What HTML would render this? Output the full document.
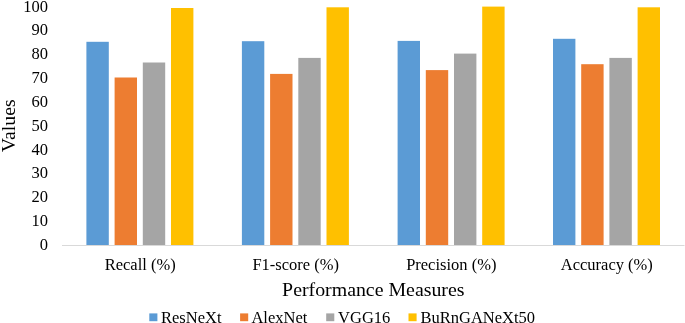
<!DOCTYPE html>
<html><head><meta charset="utf-8"><title>Chart</title>
<style>
html,body{margin:0;padding:0;background:#fff;}
svg{display:block;}
text{font-family:"Liberation Serif","Times New Roman",serif;fill:#000;}
</style></head><body>
<svg width="685" height="323" viewBox="0 0 685 323">
<rect width="685" height="323" fill="#fff"/>
<rect x="86.40" y="41.80" width="22.4" height="203.20" fill="#5B9BD5"/>
<rect x="114.60" y="77.50" width="22.4" height="167.50" fill="#ED7D31"/>
<rect x="142.80" y="62.50" width="22.4" height="182.50" fill="#A5A5A5"/>
<rect x="171.00" y="8.00" width="22.4" height="237.00" fill="#FFC000"/>
<rect x="241.90" y="41.20" width="22.4" height="203.80" fill="#5B9BD5"/>
<rect x="270.10" y="73.90" width="22.4" height="171.10" fill="#ED7D31"/>
<rect x="298.30" y="57.90" width="22.4" height="187.10" fill="#A5A5A5"/>
<rect x="326.50" y="7.30" width="22.4" height="237.70" fill="#FFC000"/>
<rect x="397.60" y="40.90" width="22.4" height="204.10" fill="#5B9BD5"/>
<rect x="425.80" y="70.10" width="22.4" height="174.90" fill="#ED7D31"/>
<rect x="454.00" y="53.60" width="22.4" height="191.40" fill="#A5A5A5"/>
<rect x="482.20" y="6.60" width="22.4" height="238.40" fill="#FFC000"/>
<rect x="553.00" y="38.80" width="22.4" height="206.20" fill="#5B9BD5"/>
<rect x="581.20" y="64.20" width="22.4" height="180.80" fill="#ED7D31"/>
<rect x="609.40" y="57.90" width="22.4" height="187.10" fill="#A5A5A5"/>
<rect x="637.60" y="7.30" width="22.4" height="237.70" fill="#FFC000"/>
<rect x="62" y="245" width="622.5" height="1" fill="#D9D9D9"/>
<text x="48.1" y="249.90" font-size="16.5" text-anchor="end">0</text>
<text x="48.1" y="226.06" font-size="16.5" text-anchor="end">10</text>
<text x="48.1" y="202.22" font-size="16.5" text-anchor="end">20</text>
<text x="48.1" y="178.38" font-size="16.5" text-anchor="end">30</text>
<text x="48.1" y="154.54" font-size="16.5" text-anchor="end">40</text>
<text x="48.1" y="130.70" font-size="16.5" text-anchor="end">50</text>
<text x="48.1" y="106.86" font-size="16.5" text-anchor="end">60</text>
<text x="48.1" y="83.02" font-size="16.5" text-anchor="end">70</text>
<text x="48.1" y="59.18" font-size="16.5" text-anchor="end">80</text>
<text x="48.1" y="35.34" font-size="16.5" text-anchor="end">90</text>
<text x="48.1" y="11.50" font-size="16.5" text-anchor="end">100</text>
<text x="140.18" y="269.7" font-size="16.5" text-anchor="middle">Recall (%)</text>
<text x="295.73" y="269.7" font-size="16.5" text-anchor="middle">F1-score (%)</text>
<text x="451.27" y="269.7" font-size="16.5" text-anchor="middle">Precision (%)</text>
<text x="606.83" y="269.7" font-size="16.5" text-anchor="middle">Accuracy (%)</text>
<text x="373.3" y="295.9" font-size="19.85" text-anchor="middle">Performance Measures</text>
<text transform="translate(15.2,125.75) rotate(-90)" font-size="19.8" text-anchor="middle">Values</text>
<rect x="149.3" y="313.4" width="8.1" height="7.8" fill="#5B9BD5"/>
<text x="161.0" y="322.7" font-size="16.5">ResNeXt</text>
<rect x="240.1" y="313.4" width="8.1" height="7.8" fill="#ED7D31"/>
<text x="251.45" y="322.7" font-size="16.5">AlexNet</text>
<rect x="326.2" y="313.4" width="8.1" height="7.8" fill="#A5A5A5"/>
<text x="338.1" y="322.7" font-size="16.5">VGG16</text>
<rect x="408.5" y="313.4" width="8.1" height="7.8" fill="#FFC000"/>
<text x="420.5" y="322.7" font-size="16.5">BuRnGANeXt50</text>
</svg></body></html>
